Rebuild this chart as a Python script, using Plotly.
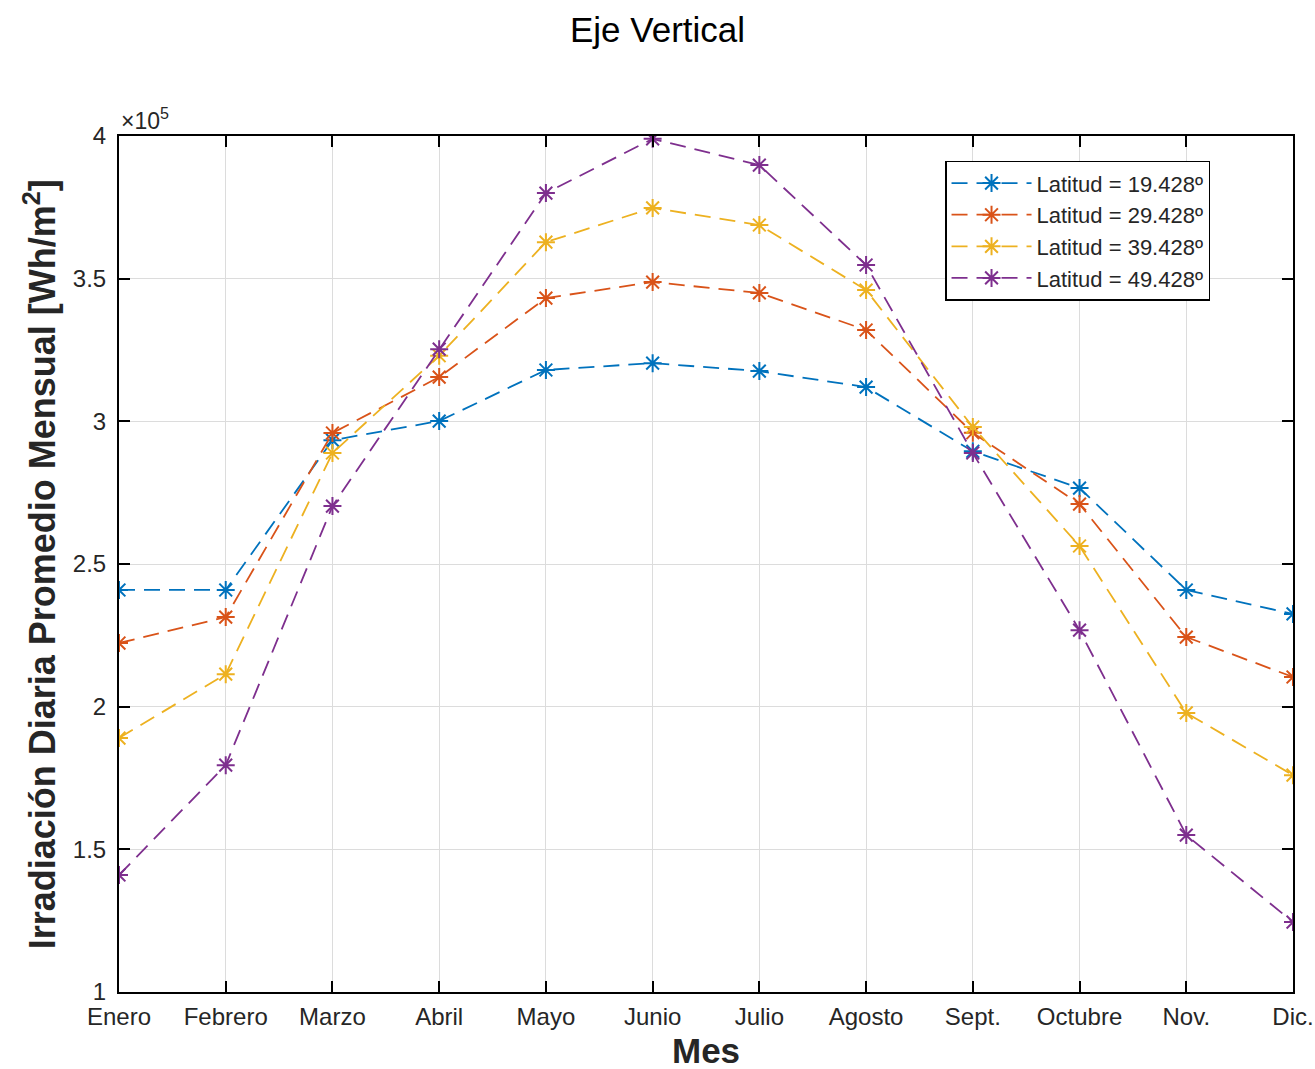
import plotly.graph_objects as go

# Monthly categories (x axis)
meses = ["Enero", "Febrero", "Marzo", "Abril", "Mayo", "Junio",
         "Julio", "Agosto", "Sept.", "Octubre", "Nov.", "Dic."]

# Average daily irradiation per month [Wh/m^2], one series per latitude
lat_19 = [240900, 240900, 293400, 300100, 318000, 320400,
          317600, 312000, 289500, 276600, 240900, 232500]
lat_29 = [222300, 231400, 295900, 315500, 343200, 348800,
          345000, 332000, 296000, 271000, 224400, 210400]
lat_39 = [189000, 211400, 288900, 323000, 362800, 374800,
          368800, 346000, 298000, 256300, 197800, 176000]
lat_49 = [141000, 179500, 270300, 325300, 380000, 399000,
          389800, 354800, 288900, 226800, 155000, 124500]

series_names = ["Latitud = 19.428º", "Latitud = 29.428º",
                "Latitud = 39.428º", "Latitud = 49.428º"]
series_values = [lat_19, lat_29, lat_39, lat_49]
colors = ["#0072BD", "#D95319", "#EDB120", "#7E2F8E"]

y_ticks = [100000, 150000, 200000, 250000, 300000, 350000, 400000]
y_tick_text = ["1", "1.5", "2", "2.5", "3", "3.5", "4"]

FONT = "Liberation Sans, Arial, sans-serif"

fig = go.Figure()
for name, vals, col in zip(series_names, series_values, colors):
    fig.add_trace(go.Scatter(
        x=list(range(len(meses))), y=vals, name=name,
        mode="lines+markers",
        line=dict(color=col, width=1.8, dash="16px,9px"),
        marker=dict(symbol="asterisk-open", size=15,
                    line=dict(color=col, width=2)),
    ))

fig.update_layout(
    width=1315, height=1069,
    margin=dict(l=119, r=22, t=136, b=77),
    paper_bgcolor="white", plot_bgcolor="white",
    font=dict(family=FONT, color="#262626", size=24),
    title=dict(text="Eje Vertical", x=0.5, xanchor="center",
               y=0.972, yanchor="middle",
               font=dict(size=35, color="black", family=FONT)),
    showlegend=True,
    legend=dict(x=0.7036, xanchor="left", y=0.971, yanchor="top",
                bgcolor="white", bordercolor="black", borderwidth=1.5,
                font=dict(size=22, color="#262626", family=FONT),
                tracegroupgap=0, itemwidth=80),
)

fig.update_xaxes(
    range=[0, len(meses) - 1], automargin=False,
    tickmode="array", tickvals=list(range(len(meses))), ticktext=meses,
    ticks="inside", ticklen=11, tickwidth=1.5, tickcolor="black",
    showline=True, linecolor="black", linewidth=2, mirror="allticks",
    showgrid=True, gridcolor="#dcdcdc", gridwidth=1,
    zeroline=False, tickfont=dict(size=24, color="#262626"),
    ticklabelstandoff=2,
)
fig.update_yaxes(
    range=[100000, 400000], automargin=False,
    tickmode="array", tickvals=y_ticks, ticktext=y_tick_text,
    ticks="inside", ticklen=11, tickwidth=1.5, tickcolor="black",
    showline=True, linecolor="black", linewidth=2, mirror="allticks",
    showgrid=True, gridcolor="#dcdcdc", gridwidth=1,
    zeroline=False, tickfont=dict(size=24, color="#262626"),
    ticklabelstandoff=6,
)

# Axis titles and the exponent label of the y axis
fig.add_annotation(text="<b>Mes</b>", xref="paper", yref="paper",
                   x=0.5, y=-0.068, xanchor="center", yanchor="middle",
                   showarrow=False, font=dict(size=35, color="#262626"))
fig.add_annotation(text="<b>Irradiación Diaria Promedio Mensual [Wh/m<sup>2</sup>]</b>",
                   xref="paper", yref="paper", x=-0.067, y=0.5,
                   xanchor="center", yanchor="middle", textangle=-90,
                   showarrow=False, font=dict(size=36, color="#262626"))
fig.add_annotation(text="×10<sup>5</sup>", xref="paper", yref="paper",
                   x=0.0, y=1.0, xanchor="left", yanchor="bottom",
                   showarrow=False, font=dict(size=23, color="#262626"))

fig.write_html("out.html")
